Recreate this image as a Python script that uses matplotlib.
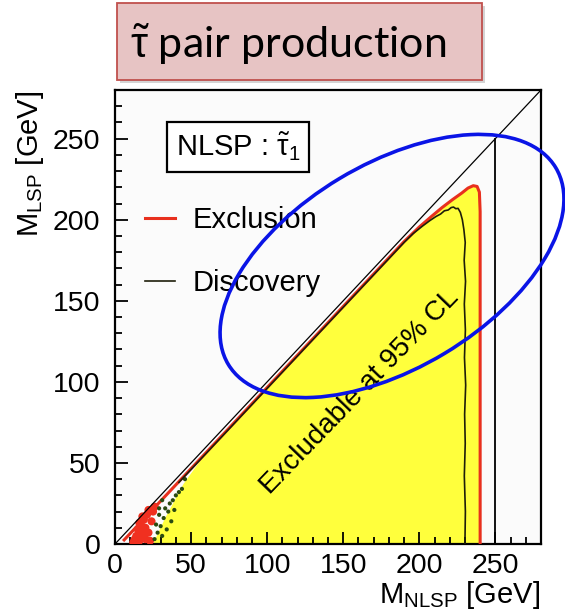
import matplotlib
matplotlib.use("Agg")
import matplotlib.pyplot as plt
from matplotlib.patches import Ellipse, FancyBboxPatch, Polygon
from matplotlib.ticker import MultipleLocator

plt.rcParams["font.family"] = ["Liberation Sans", "DejaVu Sans"]
plt.rcParams["mathtext.fontset"] = "custom"
plt.rcParams["mathtext.rm"] = "Liberation Sans"
plt.rcParams["mathtext.it"] = "Liberation Sans:italic"

# exclusion contour (M_NLSP, M_LSP) in GeV: runs just under the diagonal,
# bends over near the top and drops straight down at ~240 GeV
excl_x = [6, 30, 60, 100, 150, 190, 200, 208, 215, 222, 228, 232, 235.5,
          238, 239.5, 240, 240, 240]
excl_y = [2.5, 26.5, 56.5, 96.5, 146.5, 186.5, 195.5, 202, 207.5, 212.5,
          216.5, 219.5, 221, 220.5, 217, 205, 100, 0]

# lower-left edge of the yellow excluded area
fill_x = [240, 25, 33, 45]
fill_y = [0, 0, 16, 37]

# discovery contour, hand-traced with its jitter
disc_x = [42, 60, 100, 150, 190, 196, 202, 207, 211, 214, 216.5, 219, 221,
          222.5, 224, 225.5, 227, 228.3, 229.3, 230.2, 229.5, 230.4, 229.6,
          230.3, 229.7, 230.5, 229.8, 230.2, 229.6, 230.3, 230]
disc_y = [38, 56, 96, 146, 186, 191.5, 196, 199.5, 202, 203.5, 205.5, 206,
          207.5, 207.8, 206.8, 207, 204.5, 200, 194, 186, 175, 162, 148,
          132, 115, 98, 80, 62, 42, 20, 0]

# scattered low-mass points near the diagonal
red_pts_x = [12, 14, 15, 16, 17, 18, 19, 20, 20, 21, 22, 23, 24, 18, 22, 16,
             13, 25, 26, 19]
red_pts_y = [1, 5, 9, 2, 12, 6, 15, 3, 10, 18, 7, 2, 14, 17, 21, 13, 3, 20,
             23, 8]
green_pts_x = [26, 27, 28, 29, 30, 31, 32, 33, 34, 35, 36, 38, 40, 42, 44, 29,
               31, 37, 39, 46]
green_pts_y = [3, 12, 7, 18, 11, 5, 16, 22, 9, 20, 25, 27, 30, 32, 34, 22, 27,
               14, 21, 40]

diag_x = [0, 280]
diag_y = [0, 280]
kin_x = [250, 250]
kin_y = [0, 250]

x_ticks = [0, 50, 100, 150, 200, 250]
y_ticks = [0, 50, 100, 150, 200, 250]

fig = plt.figure(figsize=(5.65, 6.12), dpi=100)
fig.patch.set_facecolor("white")

ax = fig.add_axes([115 / 565, 1 - 544 / 612, 426 / 565, 454 / 612])
ax.set_facecolor("#fbfbfb")
ax.set_xlim(0, 280)
ax.set_ylim(0, 280)

# yellow area: upper boundary from the exclusion contour, ragged lower-left edge
upper = [(x, y) for x, y in zip(excl_x, excl_y) if x >= 45]
ax.add_patch(Polygon(upper + list(zip(fill_x, fill_y)), closed=True,
                     facecolor="#ffff3c", edgecolor="none", zorder=1))
excl_line, = ax.plot(excl_x, excl_y, color="#e8301e", lw=2.2,
                     solid_joinstyle="round", label="Exclusion", zorder=3)
ax.scatter(red_pts_x, red_pts_y, s=34, color="#f03020", edgecolors="none",
           zorder=3)
ax.scatter(green_pts_x, green_pts_y, s=9, color="#2a4a10", edgecolors="none",
           zorder=4)
disc_line, = ax.plot(disc_x, disc_y, color="#1e1e0a", lw=1.2,
                     label="Discovery", zorder=4)

ax.plot(diag_x, diag_y, color="black", lw=0.9, zorder=5)
ax.plot(kin_x, kin_y, color="black", lw=1.3, zorder=5)

ax.text(161, 94, "Excludable at 95% CL", rotation=46, fontsize=20,
        ha="center", va="center", rotation_mode="anchor", zorder=6)

ax.text(0.143, 0.874, r"NLSP : $\tilde{\mathrm{\tau}}_1$", transform=ax.transAxes,
        fontsize=21, ha="left", va="center", zorder=6,
        bbox=dict(boxstyle="square,pad=0.3", facecolor="white",
                  edgecolor="black", lw=1.6))

ax.legend(handles=[excl_line, disc_line], loc="upper left",
          bbox_to_anchor=(0.0704, 0.744), frameon=False, fontsize=21,
          handlelength=1.03, handletextpad=0.62, labelspacing=1.2,
          borderpad=0, borderaxespad=0)

ax.set_xticks(x_ticks)
ax.set_yticks(y_ticks)
ax.xaxis.set_minor_locator(MultipleLocator(10))
ax.yaxis.set_minor_locator(MultipleLocator(10))
ax.tick_params(which="both", direction="in", top=False, right=False,
               labelsize=20.5, width=1.3)
ax.tick_params(which="major", length=9)
ax.tick_params(which="minor", length=5)
ax.tick_params(axis="x", pad=6.5)
ax.tick_params(axis="y", pad=10.5)
for side in ax.spines.values():
    side.set_linewidth(1.6)

fig.text(540 / 565, 1 - 579 / 612, r"M$_{\mathrm{NLSP}}$ [GeV]", fontsize=21,
         ha="right", va="top")
fig.text(30 / 565, 1 - 91 / 612, r"M$_{\mathrm{LSP}}$ [GeV]", fontsize=21,
         rotation=90, ha="center", va="top")

# overlay in pixel units for the title banner and the highlight ellipse
ov = fig.add_axes([0, 0, 1, 1], zorder=10)
ov.set_xlim(0, 565)
ov.set_ylim(612, 0)
ov.axis("off")
ov.patch.set_alpha(0)

ov.add_patch(FancyBboxPatch((120, 6), 365, 77, boxstyle="square,pad=0",
                            facecolor="#b8b8b8", edgecolor="none", alpha=0.6))
ov.add_patch(FancyBboxPatch((117, 3), 365, 77, boxstyle="square,pad=0",
                            facecolor="#e7c4c4", edgecolor="#c0504d", lw=1.3))
ov.text(130, 44, r"$\tilde{\mathrm{\tau}}$ pair production", fontsize=31,
        family=["Lato", "DejaVu Sans"], ha="left", va="center")

ov.add_patch(Ellipse((392, 266), 382, 204, angle=-31, facecolor="none",
                     edgecolor="#0a14e6", lw=2.6))

fig.savefig("out.png", dpi=100)
